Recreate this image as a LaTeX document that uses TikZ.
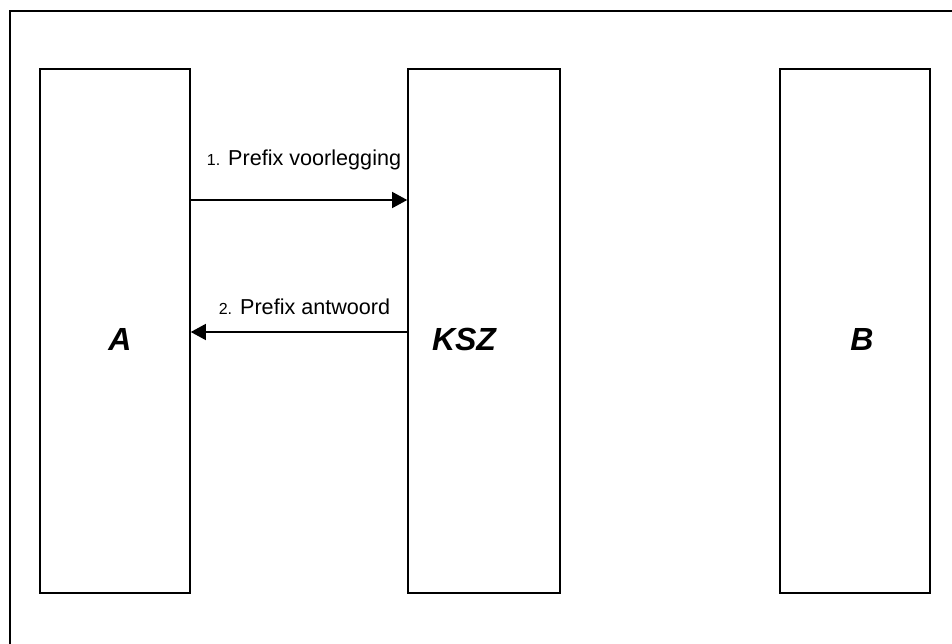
\documentclass[tikz,border=0pt]{standalone}
\usepackage{fontspec}
\setmainfont{Liberation Sans}
\usetikzlibrary{arrows.meta}
\begin{document}
\begin{tikzpicture}[x=1pt,y=-1pt,
  party/.style={draw=black,line width=1.6pt,minimum width=150pt,minimum height=524pt,inner sep=0pt},
  bigtext/.style={font=\fontsize{32}{36}\selectfont\bfseries\itshape,anchor=base,inner sep=0pt},
  msgtext/.style={font=\fontsize{21.6}{24}\selectfont,anchor=base,inner sep=0pt},
  msg/.style={line width=1.4pt,-{Triangle[length=15pt,width=16pt]}}]
\useasboundingbox (0,0) rectangle (952,644);
\draw[line width=1.8pt] (10,644) -- (10,11) -- (952,11);
\node[party] (A) at (115,331) {};
\node[party,minimum width=152pt] (KSZ) at (484,331) {};
\node[party] (B) at (855,331) {};
\node[bigtext] (tA) at (120,350) {A};
\node[bigtext] (tKSZ) at (464,350) {KSZ};
\node[bigtext] (tB) at (862,350) {B};
\coordinate (y1) at (0,200);
\coordinate (y2) at (0,332);
\draw[msg] (A.east |- y1) -- (KSZ.west |- y1);
\draw[msg] (KSZ.west |- y2) -- (A.east |- y2);
\node[msgtext] (l1) at (304,166) {{\fontsize{16}{18}\selectfont 1.} Prefix voorlegging};
\node[msgtext] (l2) at (304.5,314) {{\fontsize{16}{18}\selectfont 2.} Prefix antwoord};
\end{tikzpicture}
\end{document}
